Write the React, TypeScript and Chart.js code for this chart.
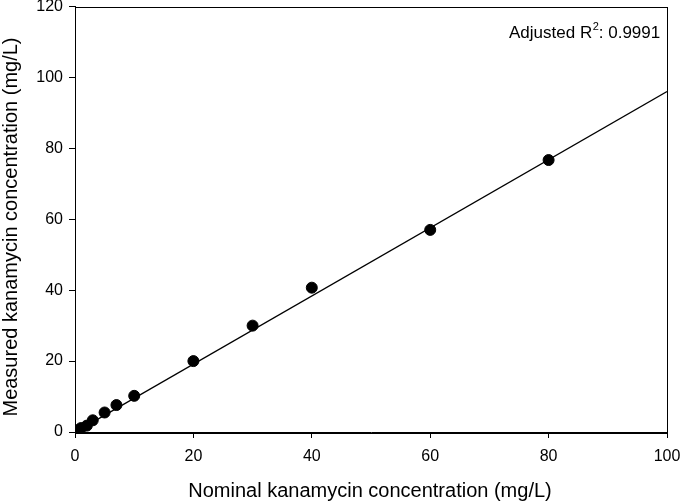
import React, { useEffect, useRef } from "react";
import { Chart, registerables } from "chart.js";

Chart.register(...registerables);

const nominal = [0.5, 1, 2, 3, 5, 7, 10, 20, 30, 40, 60, 80];
const measured = [0.5, 1.1, 1.8, 3.3, 5.5, 7.6, 10.2, 20.0, 30.0, 40.7, 57.0, 76.7];
const fitX = [0, 100];
const fitY = [-0.1, 96.0];
const xTicks = [0, 20, 40, 60, 80, 100];
const yTicks = [0, 20, 40, 60, 80, 100, 120];
const annotationMain = "Adjusted R";
const annotationSup = "2";
const annotationTail = ": 0.9991";
const xTitle = "Nominal kanamycin concentration (mg/L)";
const yTitle = "Measured kanamycin concentration (mg/L)";

const FONT = "'Liberation Sans', Arial, sans-serif";

const framePlugin = {
  id: "frame",
  afterDatasetsDraw(chart: any) {
    const { ctx, chartArea } = chart;
    ctx.save();
    ctx.strokeStyle = "#000";
    ctx.lineWidth = 1;
    ctx.strokeRect(
      Math.round(chartArea.left) + 0.5,
      Math.round(chartArea.top) + 0.5,
      Math.round(chartArea.right - chartArea.left),
      Math.round(chartArea.bottom - chartArea.top)
    );
    // annotation
    ctx.fillStyle = "#000";
    ctx.textBaseline = "alphabetic";
    ctx.textAlign = "left";
    ctx.font = `17px ${FONT}`;
    let x = 509;
    const y = 38;
    ctx.fillText(annotationMain, x, y);
    x += ctx.measureText(annotationMain).width;
    ctx.font = `11px ${FONT}`;
    ctx.fillText(annotationSup, x + 0.5, y - 8);
    x += ctx.measureText(annotationSup).width + 0.5;
    ctx.font = `17px ${FONT}`;
    ctx.fillText(annotationTail, x, y);

    // axis titles
    ctx.font = `20px ${FONT}`;
    ctx.textAlign = "center";
    ctx.textBaseline = "middle";
    ctx.fillText(xTitle, 370, 491);
    ctx.translate(11, 227);
    ctx.rotate(-Math.PI / 2);
    ctx.fillText(yTitle, 0, 0);
    ctx.restore();
  },
};

export default function App() {
  const ref = useRef<HTMLCanvasElement | null>(null);
  useEffect(() => {
    if (!ref.current) return;
    const chart = new Chart(ref.current, {
      type: "scatter",
      data: {
        datasets: [
          {
            type: "line",
            data: fitX.map((x, i) => ({ x, y: fitY[i] })),
            borderColor: "#000",
            borderWidth: 1.3,
            pointRadius: 0,
            fill: false,
          } as any,
          {
            data: nominal.map((x, i) => ({ x, y: measured[i] })),
            backgroundColor: "#000",
            borderColor: "#000",
            pointRadius: 5.5,
            pointHoverRadius: 5.5,
          },
        ],
      },
      options: {
        animation: false,
        responsive: false,
        maintainAspectRatio: false,
        layout: { padding: { top: 6, right: 13, left: 0, bottom: 0 } },
        plugins: { legend: { display: false }, tooltip: { enabled: false } },
        scales: {
          x: {
            type: "linear",
            min: 0,
            max: 100,
            afterBuildTicks: (s: any) => {
              s.ticks = xTicks.map((v) => ({ value: v }));
            },
            afterFit: (s: any) => {
              s.height = 70;
              s.paddingLeft = 0;
              s.paddingRight = 0;
            },
            grid: { display: true, drawOnChartArea: false, drawTicks: true, tickLength: 6, color: "#000" },
            border: { display: true, color: "#000" },
            ticks: { color: "#000", font: { family: FONT, size: 16 }, padding: 9, maxRotation: 0 },
          },
          y: {
            type: "linear",
            min: 0,
            max: 120,
            afterBuildTicks: (s: any) => {
              s.ticks = yTicks.map((v) => ({ value: v }));
            },
            afterFit: (s: any) => {
              s.width = 75;
              s.paddingTop = 0;
              s.paddingBottom = 0;
            },
            grid: { display: true, drawOnChartArea: false, drawTicks: true, tickLength: 6, color: "#000" },
            border: { display: true, color: "#000" },
            ticks: { color: "#000", font: { family: FONT, size: 16 }, padding: 6 },
          },
        },
      },
      plugins: [framePlugin],
    });
    return () => chart.destroy();
  }, []);
  return (
    <div style={{ position: "fixed", left: 0, top: 0, width: 680, height: 502, background: "#fff" }}>
      <canvas ref={ref} width={680} height={502} style={{ width: 680, height: 502 }} />
    </div>
  );
}
